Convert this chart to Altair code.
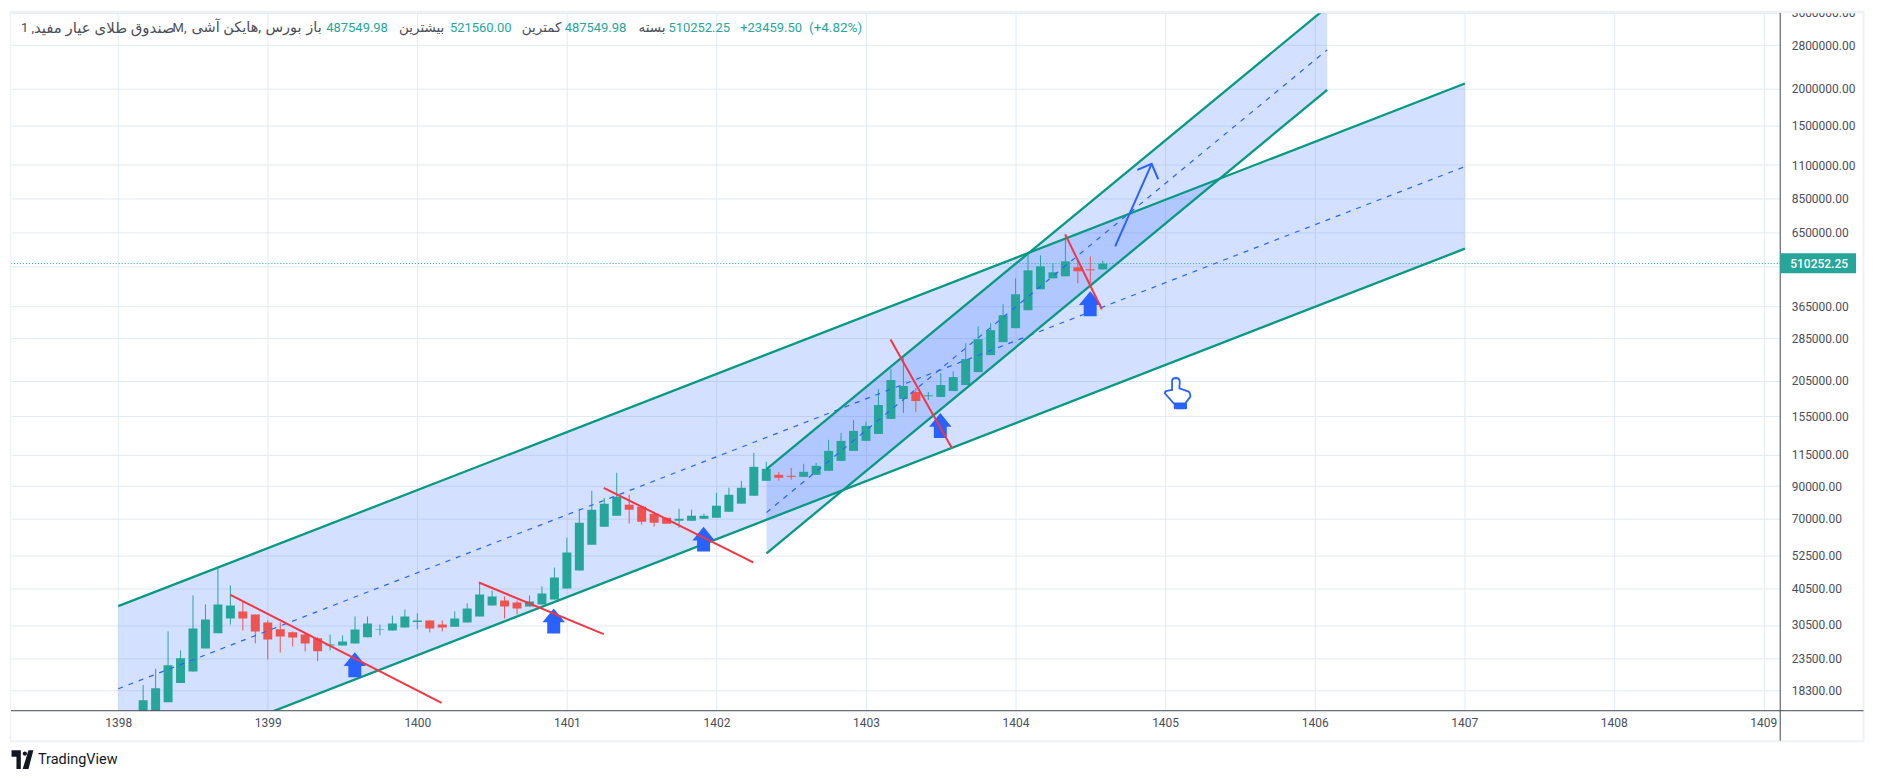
import altair as alt
import pandas as pd

# --- candles (monthly, Heikin Ashi); month index counted from 1398 ---
months = list(range(2, 80))
opens = [13900,14600,16700,19400,21200,25400,28600,32100,33900,33100,31100,29500,28800,28300,27500,26000,26000,26400,27700,29300,29200,29900,31200,31600,30600,30100,31100,32600,35500,36900,36300,35200,35800,37200,40500,46600,57000,65600,71500,77900,76700,72600,70400,68700,68700,69800,70400,73700,78500,83500,93800,98300,97600,96800,98300,101400,109600,118500,128100,135200,152000,177500,187500,181300,180300,188900,198000,219000,250000,276600,308400,354700,417600,454900,462100,495600,487900,487549.98]
highs = [19100,21700,29000,25000,38400,35800,47200,41500,36600,33100,31600,31100,29000,28600,27700,28300,28100,32600,32600,30600,32800,34400,33400,31600,31600,33900,36100,42500,39900,38100,36900,38400,41200,47700,60200,75500,86800,82200,99900,84200,77300,73700,70400,75500,74900,72600,85500,88900,93800,116700,108800,100600,103800,107100,107900,129100,136300,150800,148500,191900,224200,244200,193400,187500,217300,220700,274400,313200,320600,371600,454900,556900,544000,511200,640500,523300,539800,521560.00]
lows = [12500,13000,16700,19400,21200,25400,28600,30600,29200,26400,23300,24600,25800,24800,23000,25000,26000,26400,27700,28100,29200,29900,29500,28800,29000,30100,31100,32600,35500,32100,33100,35200,35800,37200,40500,46600,57000,65600,71500,67200,66700,65600,67200,65100,68700,69800,70400,73700,78500,83500,93800,93900,94600,96800,98300,101400,109600,118500,128100,135200,152000,159200,160500,176100,180300,188900,198000,219000,250000,276600,308400,354700,417600,454900,462100,437700,437700,487549.98]
closes = [16958,18616,22262,23508,29684,31836,35775,35498,32085,29000,27251,27894,27678,26416,24823,26212,26830,29455,30861,29455,30861,32588,31590,29684,29916,32085,34680,38668,38072,35223,34680,36620,38970,44134,53604,67689,74889,78466,82856,74889,68217,67689,67164,69827,71475,71475,77256,84155,88863,104627,103012,96049,96799,100637,105443,118489,128071,138427,143916,169446,205808,196426,174799,182674,197959,210665,242317,283092,303615,341179,401702,484125,499421,476654,519221,480375,484125,510252.25]

# --- axes ---
year_ticks = list(range(1398, 1410))
price_ticks = [3600000,2800000,2000000,1500000,1100000,850000,650000,500000,365000,285000,205000,155000,115000,90000,70000,52500,40500,30500,23500,18300]
last_price = 510252.25

# --- parallel channels ---
ch1_x = [1398.0, 1407.005]
ch1_up = [35305, 2077371]
ch1_mid = [18544, 1086902]
ch1_lo = [9740, 573117]
ch2_x = [1402.335, 1406.084]
ch2_up = [102772, 3771796]
ch2_mid = [73333, 2699771]
ch2_lo = [53313, 1978051]

# --- red trend lines ---
red_lines = [
    ([1398.750, 1400.162], [38578, 16605]),
    ([1400.412, 1401.246], [42450, 28397]),
    ([1401.246, 1402.246], [88863, 49710]),
    ([1403.164, 1403.575], [282433, 121003]),
    ([1404.332, 1404.577], [640528, 357475]),
]
# --- blue drawings ---
up_x = [1399.582, 1400.912, 1401.914, 1403.497, 1404.499]
up_y = [22349, 31467, 59538, 144476, 373096]
shaft_x = [1404.666, 1404.910]
shaft_y = [583460, 1109964]
head_x = [1404.814, 1404.910, 1404.954]
head_y = [1059364, 1109964, 984689]
hand_x = [1405.080]
hand_y = [185586]

# --- header texts ---
hdr_text = ["1 ,", "صندوق طلای عیار مفید", "M,", "هایکن آشی,", "بورس", "باز", "487549.98", "بیشترین", "521560.00", "کمترین", "487549.98", "بسته", "510252.25", "+23459.50", "(+4.82%)"]

TEAL = "#089981"; GREEN = "#26a69a"; RED = "#ef5350"; LINE_RED = "#f23645"; BLUE = "#2962ff"
GREY = "#4a4e59"; GRID = "#e1ebf2"; FRAME = "#eef1f6"; AXIS = "#434651"
FONT = "Roboto, 'Noto Sans', 'DejaVu Sans', sans-serif"

W, H = 1773.5, 699.5
xs = alt.Scale(domain=[1397.283, 1409.113], nice=False, zero=False)
ys = alt.Scale(type="log", domain=[15628, 3601000], nice=False, zero=False)
AX = alt.Axis(
    values=year_ticks, format="d", title=None, orient="bottom", grid=True, gridColor=GRID, gridWidth=1,
    domain=False, ticks=False, labelPadding=7, labelFont=FONT, labelFontSize=12, labelColor=GREY,
    labelOverlap=False, labelFlush=False)
AY = alt.Axis(
    values=price_ticks, format=".2f", title=None, orient="right", grid=True, gridColor=GRID, gridWidth=1,
    domain=False, ticks=False, labelPadding=11, labelFont=FONT, labelFontSize=12, labelColor=GREY,
    labelOverlap=False, labelAlign="left", labelBaseline="middle", labelBound=False)
X = alt.X("x:Q", scale=xs, axis=AX)
Y = alt.Y("y:Q", scale=ys, axis=AY)
one = pd.DataFrame({"a": [0]})

df = pd.DataFrame({
    "x": [1398 + m / 12 for m in months],
    "o": opens, "h": highs, "l": lows, "c": closes,
})
df["top"] = df[["o", "c"]].max(axis=1)
df["bot"] = df[["o", "c"]].min(axis=1)
df["dir"] = ["up" if c >= o else "down" for o, c in zip(opens, closes)]
cscale = alt.Color("dir:N", scale=alt.Scale(domain=["up", "down"], range=[GREEN, RED]), legend=None)

def seg(x, y, color, width, dash=None):
    kw = dict(color=color, strokeWidth=width, clip=True)
    if dash:
        kw["strokeDash"] = dash
    return alt.Chart(pd.DataFrame({"x": x, "y": y})).mark_line(**kw).encode(x=X, y=Y)

def band(x, up, lo):
    d = pd.DataFrame({"x": x, "y": up, "y2": lo})
    return alt.Chart(d).mark_area(color=BLUE, opacity=0.2, clip=True, orient="vertical").encode(x=X, y=Y, y2="y2:Q")

def hrule(y, a, b, color, width):
    return alt.Chart(one).mark_rule(color=color, strokeWidth=width).encode(x=alt.value(a), x2=alt.value(b), y=alt.value(y))

def vrule(x, a, b, color, width):
    return alt.Chart(one).mark_rule(color=color, strokeWidth=width).encode(x=alt.value(x), y=alt.value(a), y2=alt.value(b))

def label(text, x, y, color, size=13, align="left", weight=400):
    return alt.Chart(pd.DataFrame({"t": [text]})).mark_text(
        color=color, fontSize=size, align=align, baseline="middle", font=FONT, fontWeight=weight
    ).encode(x=alt.value(x), y=alt.value(y), text="t:N")

layers = [band(ch1_x, ch1_up, ch1_lo), band(ch2_x, ch2_up, ch2_lo)]
layers.append(alt.Chart(pd.DataFrame({"y": [last_price]})).mark_rule(color=GREEN, strokeWidth=1, strokeDash=[1, 2]).encode(
    y=Y, x=alt.value(0), x2=alt.value(W)))
layers.append(alt.Chart(df).mark_rule(strokeWidth=1, clip=True).encode(
    x=X, y=alt.Y("h:Q", scale=ys, axis=AY), y2="l:Q", color=cscale))
layers.append(alt.Chart(df).mark_rule(strokeWidth=9, clip=True).encode(
    x=X, y=alt.Y("top:Q", scale=ys, axis=AY), y2="bot:Q", color=cscale))
layers += [seg(ch1_x, ch1_mid, BLUE, 1.2, [5, 6]), seg(ch2_x, ch2_mid, BLUE, 1.2, [5, 6])]
layers += [seg(ch1_x, ch1_up, TEAL, 2.3), seg(ch1_x, ch1_lo, TEAL, 2.3), seg(ch2_x, ch2_up, TEAL, 2.3), seg(ch2_x, ch2_lo, TEAL, 2.3)]

ARROW = "M0,-1L0.9,0.1L0.52,0.1L0.52,1L-0.52,1L-0.52,0.1L-0.9,0.1Z"
layers.append(alt.Chart(pd.DataFrame({"x": up_x, "y": up_y})).mark_point(
    shape=ARROW, size=625, filled=True, color=BLUE, opacity=1, strokeWidth=0).encode(x=X, y=Y))
for rx, ry in red_lines:
    layers.append(seg(rx, ry, LINE_RED, 2))
layers += [seg(shaft_x, shaft_y, BLUE, 2), seg(head_x, head_y, BLUE, 2)]

HAND = "M-.375,-.25L-.375,-.95Q-.35,-1.15,-.075,-1.15Q.2,-1.15,.2,-.875L.175,-.375L.875,-.125Q1,-.05,1,.25L.625,.75L-.25,.75L-.925,0Q-.9,-.2,-.675,-.2Z"
CUFF = "M-.25,.75L.75,.75L.75,1.1Q.75,1.2,.65,1.2L-.1,1.2Q-.25,1.2,-.25,1.1Z"
hd = pd.DataFrame({"x": hand_x, "y": hand_y})
layers.append(alt.Chart(hd).mark_point(shape=HAND, size=711, filled=False, color=BLUE, opacity=1, strokeWidth=1.8).encode(x=X, y=Y))
layers.append(alt.Chart(hd).mark_point(shape=CUFF, size=711, filled=True, color=BLUE, opacity=1, strokeWidth=0).encode(x=X, y=Y))

# frame, price scale separators, price tag
layers.append(alt.Chart(one).mark_rect(color="white").encode(x=alt.value(W + 1), x2=alt.value(W + 80), y=alt.value(-12), y2=alt.value(0)))
layers += [
    hrule(-1, -1, 1857, FRAME, 2.5),
    hrule(H + 30.5, -1, 1857, FRAME, 2),
    vrule(-0.5, -2, H + 31, FRAME, 1.5),
    vrule(1857, -2, H + 31, FRAME, 2),
    hrule(H, 0, 1857, AXIS, 1),
    vrule(W, 0, H + 30, AXIS, 1),
]
layers.append(alt.Chart(one).mark_rect(color=GREEN).encode(
    x=alt.value(W), x2=alt.value(W + 76), y=alt.value(241), y2=alt.value(261)))
layers.append(label("510252.25", W + 39, 251.5, "white", 12, "center", 500))

# header
hdr_x = [10, 23, 162, 181, 255, 296, 316, 389, 440, 512, 555, 629, 659, 731, 800]
hdr_col = [GREY] * 6 + [GREEN, GREY, GREEN, GREY, GREEN, GREY, GREEN, GREEN, GREEN]
hdr_size = [13, 15, 13, 14.5, 14.5, 14.5, 13, 13.5, 13, 13.5, 13, 13.5, 13, 13, 13.5]
for t, x0, c, s in zip(hdr_text, hdr_x, hdr_col, hdr_size):
    layers.append(label(t, x0, 14.7, c, s))

# TradingView logo & wordmark
LOGO = "M-1,-.85L-.15,-.85L-.15,.85L-.55,.85L-.55,-.25L-1,-.25ZM.02,-.55A.2,.2,0,1,1,.42,-.55A.2,.2,0,1,1,.02,-.55ZM.55,-.85L1,-.85L.55,.85L.02,.85Z"
layers.append(alt.Chart(one).mark_point(shape=LOGO, size=480, filled=True, color="#131722", opacity=1, strokeWidth=0).encode(
    x=alt.value(11.5), y=alt.value(748.5)))
layers.append(label("TradingView", 27, 748.5, "#131722", 14.5, "left", 400))

chart = alt.layer(*layers).properties(
    width=W, height=H, background="white",
    padding={"left": 3, "top": 4, "right": 90, "bottom": 60},
    autosize=alt.AutoSizeParams(type="none"),
).configure_view(stroke=None)

chart.save("out.html", embed_options={"renderer": "svg", "actions": False})
